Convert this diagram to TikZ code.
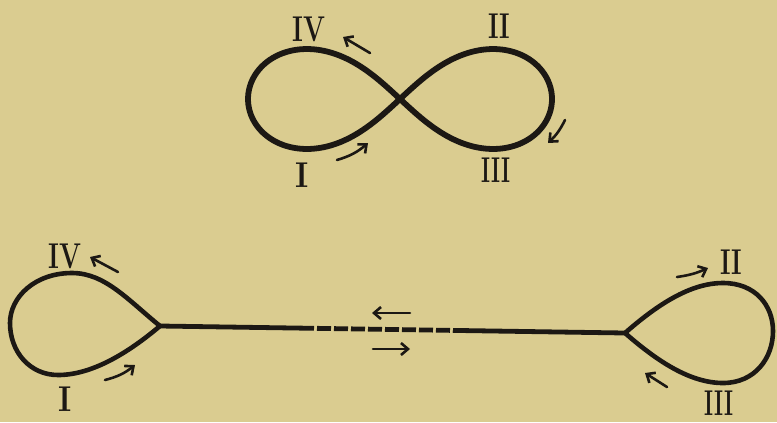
\documentclass[tikz,border=0pt]{standalone}
\usetikzlibrary{arrows.meta}
\definecolor{paper}{RGB}{218,204,144}
\definecolor{ink}{RGB}{28,24,20}
\begin{document}
\begin{tikzpicture}[x=1bp,y=-1bp,
  curve/.style={draw=ink,line width=5.8bp,line join=round},
  loopline/.style={draw=ink,line width=4.6bp,line join=miter},
  cord/.style={draw=ink,line width=4.8bp},
  flow/.style={draw=ink,line width=2.6bp,line cap=round,-{Straight Barb[length=7bp,width=12bp,line width=2.6bp]}},
  numeral/.style={text=ink,inner sep=0pt,font=\fontsize{36}{36}\selectfont\bfseries}]
\fill[paper] (0,0) rectangle (777,422);
\useasboundingbox (0,0) rectangle (777,422);
\clip (0,0) rectangle (777,422);
% ---------- upper figure eight ----------
\draw[curve] plot[domain=0:360,samples=240,smooth cycle]
  ({400+152*cos(\x)/(1+sin(\x)*sin(\x))},{99+0.93*152*sin(\x)*cos(\x)/(1+sin(\x)*sin(\x))});
\node[numeral] (uIV) at (309,29) {\scalebox{0.72}[1]{IV}};
\node[numeral] (uII) at (499,26) {\scalebox{0.7}[1]{II}};
\node[numeral] (uI) at (302,175) {\scalebox{0.88}[1]{I}};
\node[numeral] (uIII) at (496,170) {\scalebox{0.6}[1]{III}};
\coordinate (a1s) at (370,53); \coordinate (a1e) at (343,37);
\coordinate (a2s) at (337,160); \coordinate (a2e) at (368,143);
\coordinate (a3s) at (565,120); \coordinate (a3e) at (548,143);
\draw[flow] (a1s) -- (a1e);
\draw[flow] (a2s) to[bend right=12] (a2e);
\draw[flow] (a3s) to[bend left=10] (a3e);
% ---------- lower figure ----------
\coordinate (cl) at (160,326);
\coordinate (cr) at (625,333);
\draw[loopline] (cl) .. controls (128,300) and (105,273) .. (72,273)
  .. controls (35,273) and (10,297) .. (10,323)
  .. controls (10,352) and (30,375) .. (58,375)
  .. controls (92,375) and (128,353) .. (cl);
\draw[loopline] (cr) .. controls (657,305) and (690,283) .. (723,283)
  .. controls (755,283) and (773,305) .. (773,331)
  .. controls (773,358) and (755,383) .. (723,383)
  .. controls (690,383) and (657,361) .. (cr);
\coordinate (d1) at (300,328.1);
\coordinate (d2) at (453,330.4);
\draw[cord] (cl) -- (d1);
\draw[cord,dash pattern=on 14bp off 3bp] (d1) -- (d2);
\draw[cord] (d2) -- (cr);
\node[numeral] (lIV) at (65,256) {\scalebox{0.72}[1]{IV}};
\node[numeral] (lI) at (65,399) {\scalebox{0.88}[1]{I}};
\node[numeral] (lII) at (731,262) {\scalebox{0.7}[1]{II}};
\node[numeral] (lIII) at (719,403) {\scalebox{0.6}[1]{III}};
\coordinate (b1s) at (118,272); \coordinate (b1e) at (90,257);
\coordinate (b2s) at (105,380); \coordinate (b2e) at (135,365);
\coordinate (b3s) at (677,277); \coordinate (b3e) at (708,268);
\coordinate (b4s) at (667,387); \coordinate (b4e) at (645,373);
\coordinate (m1s) at (410,313); \coordinate (m1e) at (372,313);
\coordinate (m2s) at (373,349); \coordinate (m2e) at (410,349);
\draw[flow] (b1s) -- (b1e);
\draw[flow] (b2s) to[bend right=12] (b2e);
\draw[flow] (b3s) to[bend right=8] (b3e);
\draw[flow] (b4s) -- (b4e);
\draw[flow] (m1s) -- (m1e);
\draw[flow] (m2s) -- (m2e);
\end{tikzpicture}
\end{document}
